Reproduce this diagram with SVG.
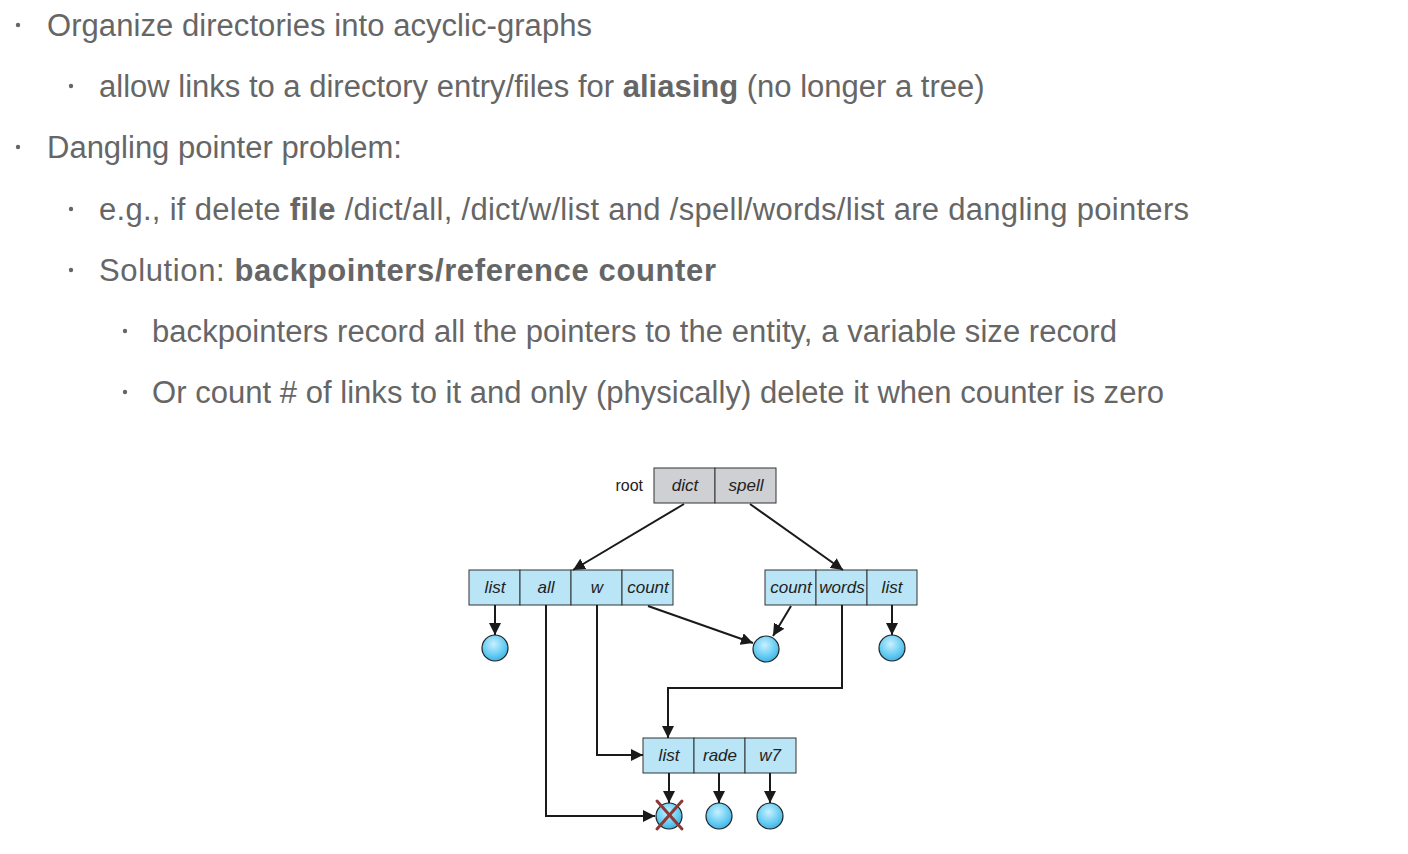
<svg xmlns="http://www.w3.org/2000/svg" width="1408" height="854" viewBox="0 0 1408 854">
<defs>
<style>
.t{font-family:"Liberation Sans",Arial,sans-serif;font-size:31px;fill:#666666}
.b{font-weight:bold}
.bul{fill:#666666}
.cell{fill:#b9e5f7;stroke:#333333;stroke-width:1}
.rcell{fill:#cfd0d4;stroke:#333333;stroke-width:1}
.lbl{font-family:"Liberation Sans",Arial,sans-serif;font-size:17px;font-style:italic;fill:#222222;text-anchor:middle}
.file{fill:url(#fg);stroke:#222222;stroke-width:1.2}
.c{fill:none;stroke:#1a1a1a;stroke-width:2;marker-end:url(#ah)}
</style>
<radialGradient id="fg" cx="0.45" cy="0.35" r="0.65">
<stop offset="0" stop-color="#c9f0ff"/>
<stop offset="0.6" stop-color="#6fd0f4"/>
<stop offset="1" stop-color="#3fb3e6"/>
</radialGradient>
<marker id="ah" viewBox="0 0 10 10" refX="10" refY="5" markerWidth="6" markerHeight="6" orient="auto" markerUnits="strokeWidth">
<path d="M0,0 L10,5 L0,10 z" fill="#1a1a1a"/>
</marker>
</defs>
<g id="text">
<circle class="bul" cx="18" cy="25" r="2.2"/>
<text class="t" x="47" y="36" textLength="545" lengthAdjust="spacing">Organize directories into acyclic-graphs</text>
<circle class="bul" cx="71" cy="86" r="2.2"/>
<text class="t" x="99" y="97">allow links to a directory entry/files for <tspan class="b">aliasing</tspan> (no longer a tree)</text>
<circle class="bul" cx="18" cy="147" r="2.2"/>
<text class="t" x="47" y="158">Dangling pointer problem:</text>
<circle class="bul" cx="71" cy="209" r="2.2"/>
<text class="t" x="99" y="220" textLength="1090" lengthAdjust="spacing">e.g., if delete <tspan class="b">file</tspan> /dict/all, /dict/w/list and /spell/words/list are dangling pointers</text>
<circle class="bul" cx="71" cy="270" r="2.2"/>
<text class="t" x="99" y="281" textLength="617" lengthAdjust="spacing">Solution: <tspan class="b">backpointers/reference counter</tspan></text>
<circle class="bul" cx="125" cy="331" r="2.2"/>
<text class="t" x="152" y="342" textLength="965" lengthAdjust="spacing">backpointers record all the pointers to the entity, a variable size record</text>
<circle class="bul" cx="125" cy="392" r="2.2"/>
<text class="t" x="152" y="403" textLength="1012" lengthAdjust="spacing">Or count # of links to it and only (physically) delete it when counter is zero</text>
</g>
<g id="root">
<text x="643" y="491" font-family="Liberation Sans, Arial, sans-serif" font-size="16" fill="#222" text-anchor="end">root</text>
<rect class="rcell" x="654" y="468" width="61" height="35"/>
<rect class="rcell" x="715" y="468" width="61" height="35"/>
<text class="lbl" x="685" y="491">dict</text>
<text class="lbl" x="746" y="491">spell</text>
</g>
<g id="dictdir">
<rect class="cell" x="469" y="570" width="51" height="35"/>
<rect class="cell" x="520" y="570" width="51" height="35"/>
<rect class="cell" x="571" y="570" width="51" height="35"/>
<rect class="cell" x="622" y="570" width="51" height="35"/>
<text class="lbl" x="495" y="593">list</text>
<text class="lbl" x="546" y="593">all</text>
<text class="lbl" x="597" y="593">w</text>
<text class="lbl" x="648" y="593">count</text>
</g>
<g id="spelldir">
<rect class="cell" x="765" y="570" width="51" height="35"/>
<rect class="cell" x="816" y="570" width="51" height="35"/>
<rect class="cell" x="867" y="570" width="50" height="35"/>
<text class="lbl" x="791" y="593">count</text>
<text class="lbl" x="842" y="593">words</text>
<text class="lbl" x="892" y="593">list</text>
</g>
<g id="wdir">
<rect class="cell" x="643" y="738" width="51" height="35"/>
<rect class="cell" x="694" y="738" width="51" height="35"/>
<rect class="cell" x="745" y="738" width="51" height="35"/>
<text class="lbl" x="669" y="761">list</text>
<text class="lbl" x="720" y="761">rade</text>
<text class="lbl" x="770" y="761">w7</text>
</g>
<g id="files">
<circle class="file" cx="495" cy="648" r="13"/>
<circle class="file" cx="766" cy="649" r="13"/>
<circle class="file" cx="892" cy="648" r="13"/>
<circle class="file" cx="669" cy="816" r="13"/>
<circle class="file" cx="719" cy="816" r="13"/>
<circle class="file" cx="770" cy="816" r="13"/>
<g id="deleted" stroke="#8b3a36" stroke-width="3" stroke-linecap="round">
<line x1="657" y1="801" x2="682" y2="829"/>
<line x1="682" y1="801" x2="657" y2="829"/>
</g>
</g>
<g id="connectors">
<path class="c" d="M684,504 L573,570"/>
<path class="c" d="M750,504 L843,570"/>
<path class="c" d="M495,605 L495,635"/>
<path class="c" d="M546,605 L546,816 L655,816"/>
<path class="c" d="M597,605 L597,755 L643,755"/>
<path class="c" d="M648,606 L753,643"/>
<path class="c" d="M791,606 L773,636"/>
<path class="c" d="M842,605 L842,688 L668,688 L668,738"/>
<path class="c" d="M892,605 L892,635"/>
<path class="c" d="M669,773 L669,803"/>
<path class="c" d="M719,773 L719,803"/>
<path class="c" d="M770,773 L770,803"/>
</g>
</svg>
